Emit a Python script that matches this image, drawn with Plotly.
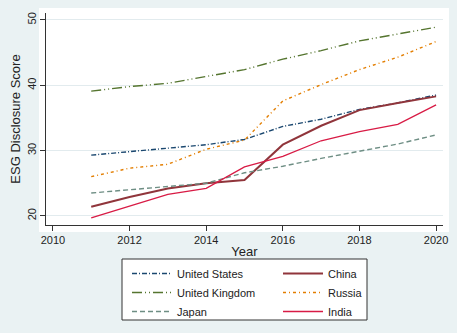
import plotly.graph_objects as go

years = [2011, 2012, 2013, 2014, 2015, 2016, 2017, 2018, 2019, 2020]
us = [29.3, 29.8, 30.3, 30.9, 31.7, 33.7, 34.8, 36.3, 37.3, 38.5]
china = [21.4, 22.9, 24.2, 25.0, 25.5, 30.9, 33.8, 36.2, 37.3, 38.3]
uk = [39.1, 39.8, 40.3, 41.4, 42.4, 44.0, 45.3, 46.8, 47.9, 48.9]
russia = [26.0, 27.3, 27.9, 30.2, 31.6, 37.6, 40.1, 42.4, 44.3, 46.7]
japan = [23.5, 24.0, 24.5, 25.0, 26.6, 27.6, 28.8, 29.9, 31.0, 32.4]
india = [19.7, 21.5, 23.3, 24.2, 27.5, 29.1, 31.5, 32.9, 34.0, 37.0]

# name, values, colour, dash, width, legend column
series = [
    ("United States", us, "#1A476F", "5px,2px,1px,2px", 1.4, "legend"),
    ("China", china, "#90353B", "solid", 2.0, "legend2"),
    ("United Kingdom", uk, "#55752F", "10px,3px,1px,3px,1px,3px", 1.4, "legend"),
    ("Russia", russia, "#E37E00", "3px,3px,1px,3px", 1.4, "legend2"),
    ("Japan", japan, "#6E8E84", "5px,3px", 1.4, "legend"),
    ("India", india, "#D81B45", "solid", 1.3, "legend2"),
]

fig = go.Figure()
for name, vals, color, dash, w, lg in series:
    fig.add_trace(go.Scatter(x=years, y=vals, mode="lines", name=name, legend=lg,
                             line=dict(color=color, dash=dash, width=w)))

BG = "#EAF2F3"
OFF = 8  # default body margin of the page
W, H = 457 - OFF, 333 - OFF
# target plot area in page pixels: x 46..443, y 13..225
l, r, t, b = 46 - OFF, 457 - 443, 13 - OFF, 333 - 225
pw, ph = W - l - r, H - t - b

def px_x(p):
    return (p - 46) / pw

def px_y(p):
    return (225 - p) / ph

fig.add_shape(type="rect", xref="paper", yref="paper",
              x0=px_x(39), x1=px_x(452), y0=px_y(232), y1=px_y(6),
              fillcolor="white", line=dict(width=0), layer="below")
fig.add_shape(type="rect", xref="paper", yref="paper",
              x0=px_x(122), x1=px_x(367), y0=px_y(320), y1=px_y(259),
              fillcolor="white", line=dict(width=1, color="#333"), layer="below")

leg_common = dict(orientation="v", xanchor="left", yanchor="top",
                  bgcolor="rgba(0,0,0,0)", borderwidth=0,
                  font=dict(size=11), itemwidth=40, tracegroupgap=0)

fig.update_layout(
    width=W, height=H,
    margin=dict(l=l, r=r, t=t, b=b, autoexpand=False),
    paper_bgcolor=BG,
    plot_bgcolor="white",
    font=dict(family="Liberation Sans, Arial", size=11, color="#222"),
    showlegend=True,
    legend=dict(x=px_x(127), y=px_y(259), **leg_common),
    legend2=dict(x=px_x(278), y=px_y(259), **leg_common),
)
fig.update_xaxes(range=[2009.82, 2020.18], tickvals=[2010, 2012, 2014, 2016, 2018, 2020],
                 showgrid=False, showline=True, linecolor="#333", linewidth=1,
                 ticks="outside", ticklen=5, tickcolor="#333", zeroline=False,
                 title=dict(text="Year", standoff=1))
fig.update_yaxes(range=[18.6, 51.07], tickvals=[20, 30, 40, 50],
                 showgrid=True, gridcolor="#E2EBEE", gridwidth=1,
                 showline=True, linecolor="#333", linewidth=1,
                 ticks="outside", ticklen=5, tickcolor="#333", zeroline=False,
                 tickangle=-90,
                 title=dict(text="ESG Disclosure Score", standoff=4))

fig.write_html("out.html",
               post_script="document.body.style.background='%s';" % BG)
